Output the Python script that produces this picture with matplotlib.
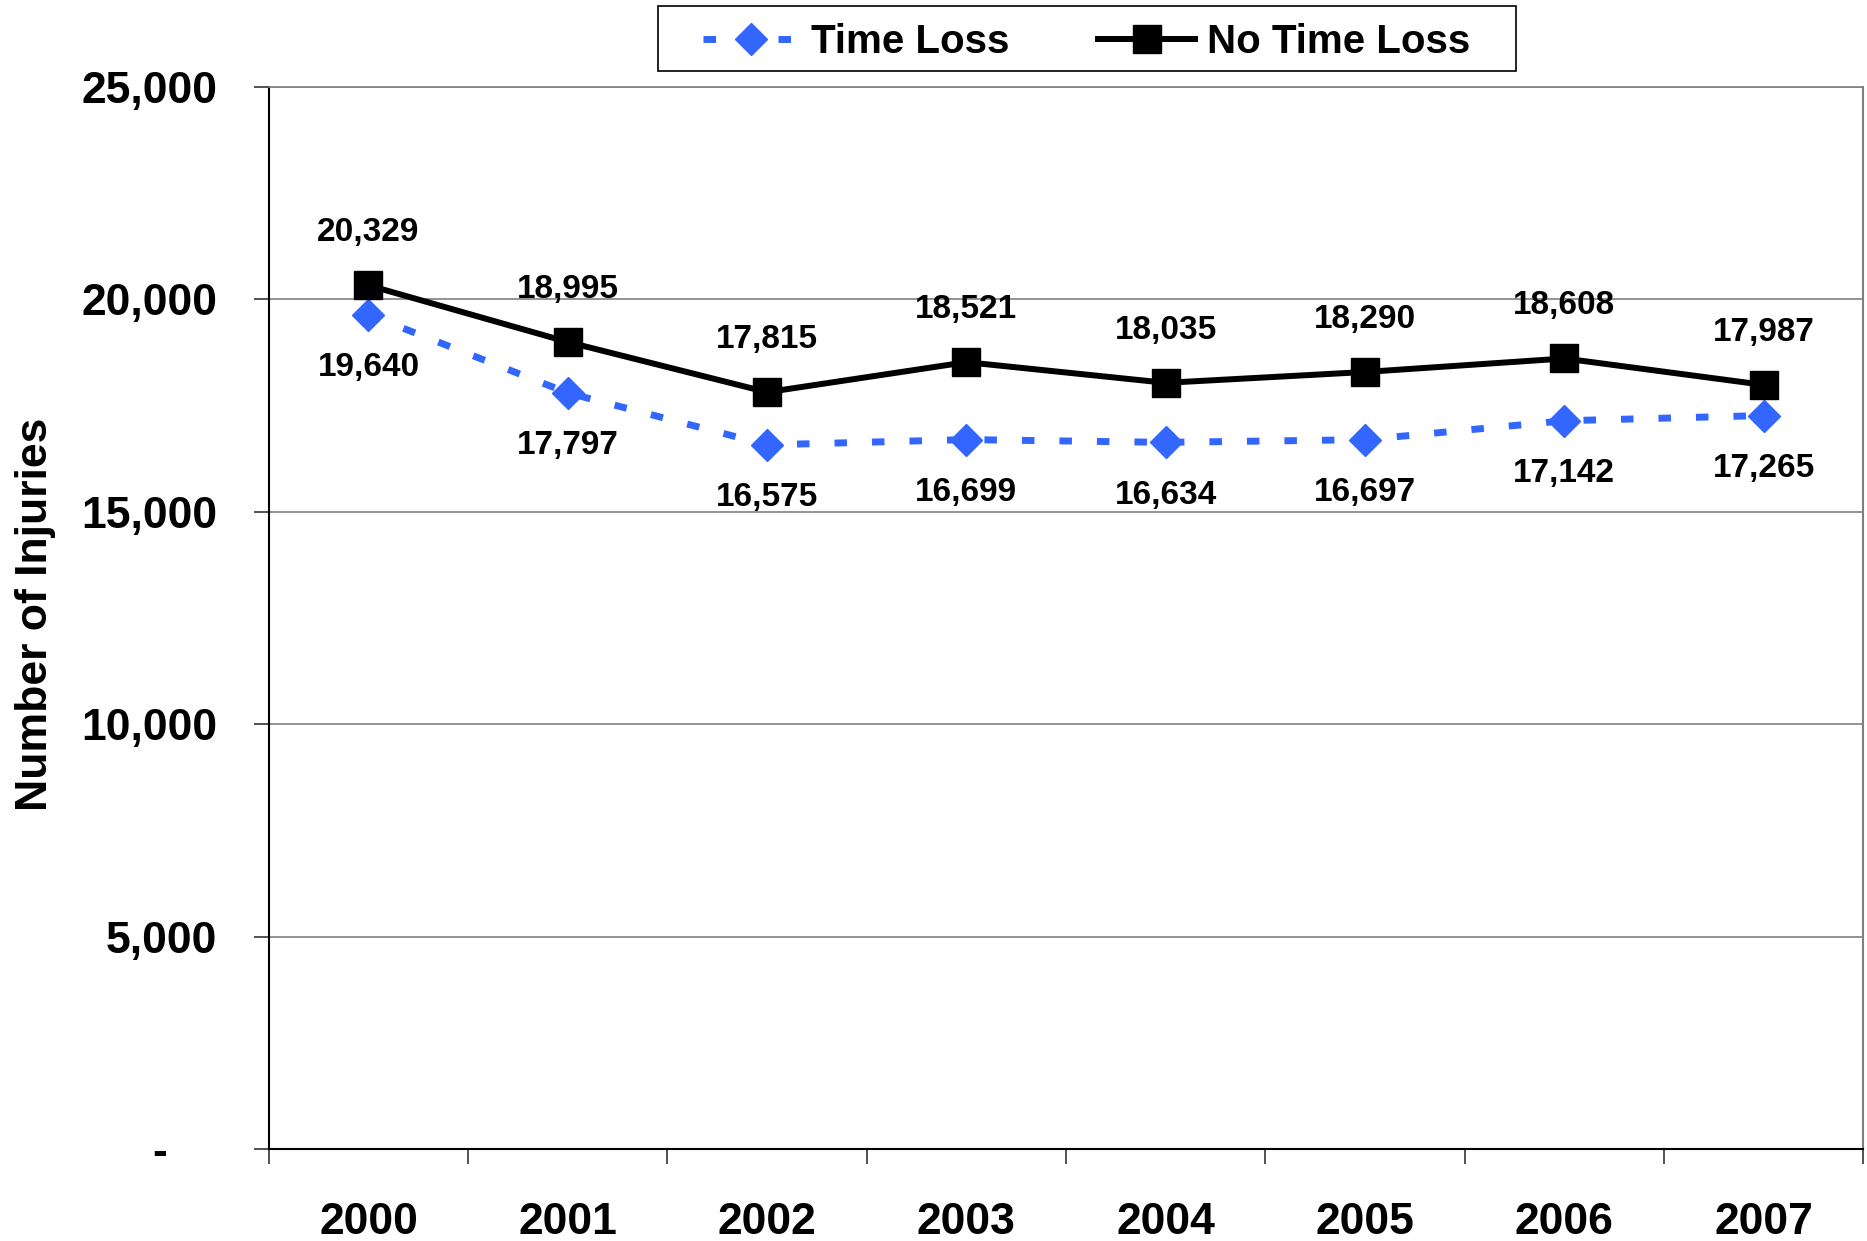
import numpy as np
import matplotlib
matplotlib.use('Agg')
import matplotlib.pyplot as plt
from matplotlib.patches import Rectangle
from matplotlib.ticker import FixedLocator, FuncFormatter

years = ['2000', '2001', '2002', '2003', '2004', '2005', '2006', '2007']
time_loss = [19640, 17797, 16575, 16699, 16634, 16697, 17142, 17265]
no_time_loss = [20329, 18995, 17815, 18521, 18035, 18290, 18608, 17987]
y_ticks = [0, 5000, 10000, 15000, 20000, 25000]

BLUE = '#3366FF'


def fmt_y(v, pos):
    if v == 0:
        return '-    '
    return '{:,.0f}'.format(v)


def main():
    plt.rcParams['font.family'] = ['Liberation Sans', 'DejaVu Sans']
    plt.rcParams['font.weight'] = 'bold'

    fig = plt.figure(figsize=(18.67, 12.41), dpi=100)
    ax = fig.add_axes([0.144, 0.074, 0.854, 0.856])

    x = np.arange(len(years))

    ax.plot(x, time_loss, color=BLUE, lw=5, dashes=(1.8, 3.6),
            dash_capstyle='butt', marker='D', ms=16, mec=BLUE, mfc=BLUE,
            label='Time Loss', zorder=3)
    ax.plot(x, no_time_loss, color='black', lw=4.3, marker='s', ms=20,
            label='No Time Loss', zorder=4)

    for xi, v in zip(x, time_loss):
        ax.annotate('{:,}'.format(v), (xi, v), xytext=(0, -38),
                    textcoords='offset points', ha='center', va='center',
                    fontsize=24, fontweight='bold')
    for xi, v in zip(x, no_time_loss):
        ax.annotate('{:,}'.format(v), (xi, v), xytext=(0, 38),
                    textcoords='offset points', ha='center', va='center',
                    fontsize=24, fontweight='bold')

    ax.set_xlim(-0.5, len(years) - 0.5)
    ax.set_ylim(0, 25000)

    ax.set_xticks(x)
    ax.set_xticklabels(years)
    ax.xaxis.set_minor_locator(FixedLocator(np.arange(-0.5, len(years), 1.0)))
    ax.tick_params(axis='x', which='major', length=0, pad=38, labelsize=32)
    ax.tick_params(axis='x', which='minor', length=11, width=1.2,
                   direction='out', color='#333333')

    ax.yaxis.set_major_locator(FixedLocator(y_ticks))
    ax.yaxis.set_major_formatter(FuncFormatter(fmt_y))
    ax.tick_params(axis='y', length=11, width=1.2, direction='out',
                   pad=26, labelsize=32, color='#333333')

    for lab in ax.get_xticklabels() + ax.get_yticklabels():
        lab.set_fontweight('bold')

    ax.grid(axis='y', color='#808080', lw=1.2)
    ax.set_axisbelow(True)

    ax.spines['left'].set_color('black')
    ax.spines['left'].set_linewidth(1.5)
    ax.spines['bottom'].set_color('black')
    ax.spines['bottom'].set_linewidth(1.5)
    ax.spines['right'].set_color('#808080')
    ax.spines['right'].set_linewidth(1.5)
    ax.spines['top'].set_color('#808080')
    ax.spines['top'].set_linewidth(1.2)

    fig.text(0.019, 0.505, 'Number of Injuries', rotation=90, ha='center',
             va='center', fontsize=32, fontweight='bold')

    # legend without its own frame, box drawn separately (wider padding)
    fig.legend(loc='upper center', bbox_to_anchor=(0.582, 0.993),
               borderaxespad=0, ncol=2, frameon=False, handlelength=2.4,
               columnspacing=2.2, borderpad=0.35, handletextpad=0.3,
               prop={'weight': 'bold', 'size': 29})
    fig.patches.append(Rectangle((0.3527, 0.9424), 0.4592, 0.0528,
                                 transform=fig.transFigure, fill=False,
                                 edgecolor='black', lw=1.2))

    fig.savefig('out.png', dpi=100)


if __name__ == "__main__":
    main()
